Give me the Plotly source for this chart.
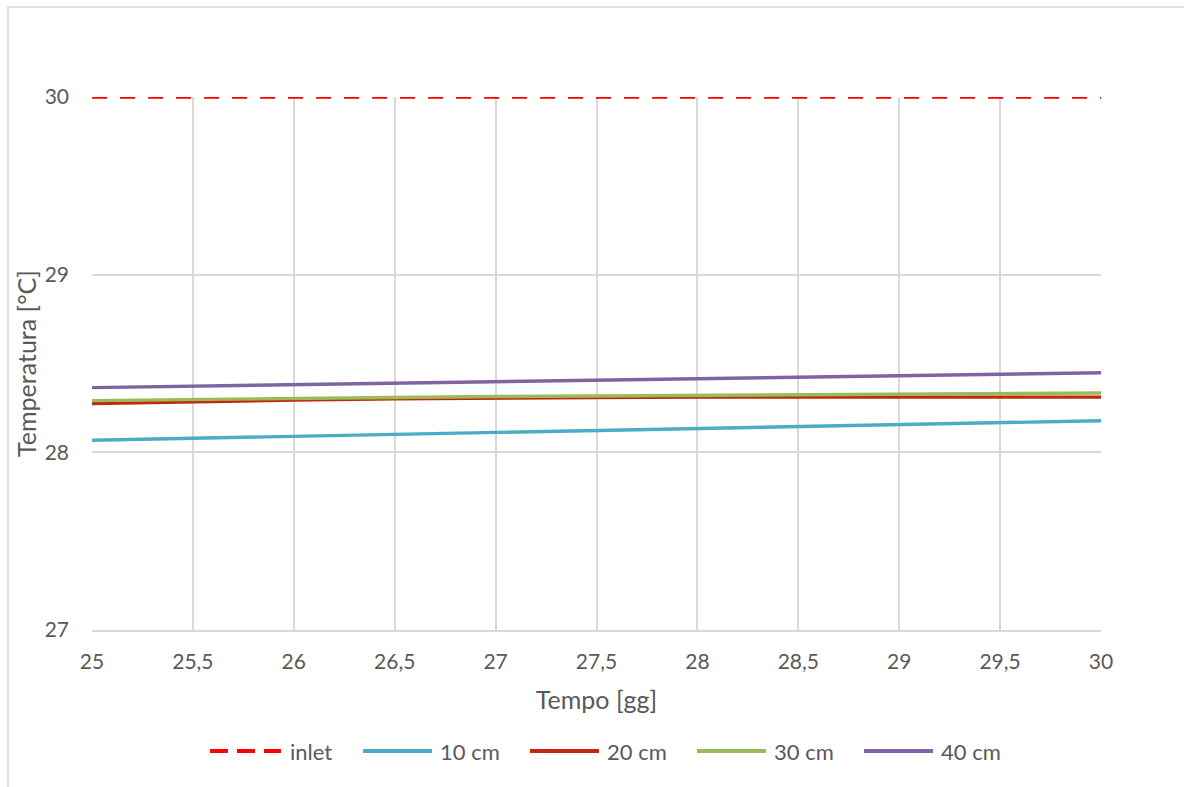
import plotly.graph_objects as go

# Giorni di simulazione
tempo = [25.0, 25.5, 26.0, 26.5, 27.0, 27.5, 28.0, 28.5, 29.0, 29.5, 30.0]

# Temperature [°C] per posizione
inlet = [30.0] * 11
t10 = [28.068, 28.079, 28.090, 28.101, 28.112, 28.123, 28.134, 28.145, 28.156, 28.167, 28.178]
t20 = [28.274, 28.285, 28.294, 28.301, 28.306, 28.309, 28.311, 28.312, 28.312, 28.312, 28.311]
t30 = [28.291, 28.298, 28.304, 28.309, 28.314, 28.318, 28.322, 28.325, 28.328, 28.331, 28.334]
t40 = [28.364, 28.372, 28.381, 28.389, 28.398, 28.406, 28.414, 28.423, 28.431, 28.440, 28.448]

series = [
    ("inlet", inlet, "#ff0000", "15px,13px"),
    ("10 cm", t10, "#4bacc6", "solid"),
    ("20 cm", t20, "#c0280f", "solid"),
    ("30 cm", t30, "#9bbb59", "solid"),
    ("40 cm", t40, "#8064a2", "solid"),
]

FONT = "Lato, 'Open Sans', sans-serif"
GRID = "#d9d9d9"
TXT = "#595959"

# plot area in pixels (used to place the hand-built legend)
W, H = 1184, 787
ML, MR, MT, MB = 92, 83, 97, 157
PW, PH = W - ML - MR, H - MT - MB


def px_x(px):
    return (px - ML) / PW


def px_y(py):
    return (H - MB - py) / PH


fig = go.Figure()
for name, vals, color, dash in series:
    fig.add_trace(go.Scatter(
        x=tempo, y=vals, name=name, mode="lines",
        line=dict(color=color, width=3.4, dash=dash),
        showlegend=False,
    ))

# Legend: line sample + label for each series
legend_sym = [(210, 281), (363, 432), (530, 599), (697, 766), (864, 933)]
legend_txt = [288, 438, 605, 772, 939]
leg_y = px_y(751)
shapes = [
    dict(type="rect", xref="paper", yref="paper",
         x0=px_x(8), x1=1.2, y0=-0.5, y1=px_y(7),
         line=dict(color="#d9d9d9", width=1.5), fillcolor="rgba(0,0,0,0)", layer="below"),
]
annotations = []
for (name, _, color, dash), (s0, s1), tx in zip(series, legend_sym, legend_txt):
    shapes.append(dict(type="line", xref="paper", yref="paper",
                       x0=px_x(s0), x1=px_x(s1), y0=leg_y, y1=leg_y,
                       line=dict(color=color, width=4,
                                 dash="18px,9px" if dash != "solid" else "solid")))
    annotations.append(dict(text=name, xref="paper", yref="paper",
                            x=px_x(tx), y=leg_y, xanchor="left", yanchor="middle",
                            showarrow=False, font=dict(size=22, color=TXT, family=FONT)))

fig.update_layout(
    width=W, height=H,
    margin=dict(l=ML, r=MR, t=MT, b=MB),
    paper_bgcolor="white", plot_bgcolor="white",
    separators=",.",
    font=dict(family=FONT, color=TXT, size=21),
    showlegend=False,
    xaxis=dict(
        range=[25, 30], dtick=0.5, tick0=25,
        showgrid=True, gridcolor=GRID, gridwidth=1.5,
        showline=True, linecolor=GRID, linewidth=1.5,
        zeroline=False, ticks="", ticklabelstandoff=12,
        tickfont=dict(size=21, color=TXT),
        title=dict(text="Tempo [gg]", font=dict(size=25, color=TXT), standoff=20),
    ),
    yaxis=dict(
        range=[27, 30], dtick=1,
        showgrid=True, gridcolor=GRID, gridwidth=1.5,
        showline=False, zeroline=False, ticks="", ticklabelstandoff=22,
        tickfont=dict(size=21, color=TXT),
        title=dict(text="Temperatura [°C]", font=dict(size=25, color=TXT), standoff=0),
    ),
    shapes=shapes,
    annotations=annotations,
)

fig.write_html("out.html")
